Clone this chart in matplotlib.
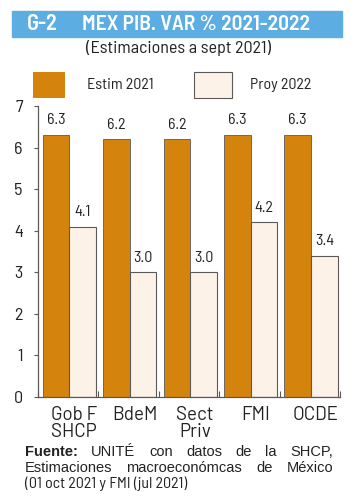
import numpy as np
import matplotlib
matplotlib.use("Agg")
import matplotlib.pyplot as plt
from matplotlib.patches import Rectangle

# Datos
categorias = ["Gob F\nSHCP", "BdeM", "Sect\nPriv", "FMI", "OCDE"]
estim_2021 = [6.3, 6.2, 6.2, 6.3, 6.3]
proy_2022 = [4.1, 3.0, 3.0, 4.2, 3.4]
yticks = [0, 1, 2, 3, 4, 5, 6, 7]

naranja = "#d4840c"
crema = "#fcf2e8"
borde = "#5a5a5a"
azul = "#5caee2"
texto = "#222222"
COND = ["Barlow Semi Condensed", "DejaVu Sans"]
NORMAL = ["Barlow", "DejaVu Sans"]
ARIAL = ["Liberation Sans", "DejaVu Sans"]

W, H = 354, 500
fig = plt.figure(figsize=(W / 100, H / 100), dpi=100)


def px(x, y):
    # pixeles (desde arriba-izquierda) a fraccion de figura
    return x / W, 1 - y / H


# Barra de titulo
fig.patches.append(Rectangle(px(12, 37), 330 / W, 26 / H, transform=fig.transFigure,
                             color=azul, zorder=0))
fig.text(*px(27, 24.5), "G-2", color="white", fontsize=16, fontweight="semibold",
         family=COND, va="center", ha="left")
fig.text(*px(82, 24.5), "MEX PIB. VAR % 2021-2022", color="white", fontsize=15.5,
         fontweight="semibold", family=COND, va="center", ha="left")
fig.text(*px(179, 48), "(Estimaciones a sept 2021)", fontsize=13, family=COND,
         va="center", ha="center", color=texto)

# Leyenda
fig.patches.append(Rectangle(px(33, 98), 32 / W, 26 / H, transform=fig.transFigure,
                             facecolor=naranja, edgecolor="none"))
fig.patches.append(Rectangle(px(194, 98), 38 / W, 26 / H, transform=fig.transFigure,
                             facecolor=crema, edgecolor=borde, lw=0.8))
fig.text(*px(87, 85), "Estim 2021", fontsize=11.5, family=COND, va="center", color=texto)
fig.text(*px(250, 85), "Proy 2022", fontsize=11.5, family=COND, va="center", color=texto)

# Grafico
l, b = px(38, 397)
r, t = px(340, 106)
ax = fig.add_axes([l, b, r - l, t - b])
x = np.arange(len(categorias))
ancho = 0.44
b1 = ax.bar(x + 0.08, estim_2021, ancho, align="edge", color=naranja,
            edgecolor=borde, lw=0.6)
b2 = ax.bar(x + 0.08 + ancho, proy_2022, ancho, align="edge", color=crema,
            edgecolor=borde, lw=0.8)
for barras, vals in [(b1, estim_2021), (b2, proy_2022)]:
    for barra, v in zip(barras, vals):
        ax.annotate(f"{v:.1f}", (barra.get_x() + barra.get_width() / 2, v),
                    xytext=(0, 5.5), textcoords="offset points", ha="center",
                    va="bottom", fontsize=11.5, family=COND, color=texto)

ax.set_xlim(0, len(categorias))
ax.set_ylim(0, 7)
ax.set_yticks(yticks)
ax.set_yticklabels([str(v) for v in yticks], family=COND, fontsize=13, color=texto)
ax.set_xticks(np.arange(len(categorias) + 1))
ax.set_xticklabels([])
ax.tick_params(axis="x", direction="in", length=4, color=borde, width=0.8)
ax.tick_params(axis="y", direction="out", length=3, color=borde, width=0.8, pad=8)
for s in ["top", "right"]:
    ax.spines[s].set_visible(False)
for s in ["left", "bottom"]:
    ax.spines[s].set_color(borde)
    ax.spines[s].set_linewidth(0.9)
for i, cat in enumerate(categorias):
    ax.text(i + 0.6, -0.22, cat, ha="center", va="top", fontsize=13.5, family=NORMAL,
            linespacing=0.9, color=texto)

# Fuente (texto justificado)
lineas = [
    [("Fuente:", "bold"), ("UNITÉ", "normal"), ("con", "normal"), ("datos", "normal"),
     ("de", "normal"), ("la", "normal"), ("SHCP,", "normal")],
    [("Estimaciones", "normal"), ("macroeconómcas", "normal"), ("de", "normal"),
     ("México", "normal")],
]
ys = [452, 468]
x0, x1 = 25, 333
fig.canvas.draw()
ren = fig.canvas.get_renderer()
for palabras, yy in zip(lineas, ys):
    textos = [fig.text(*px(x0, yy), p, fontsize=10.5, fontweight=w, va="center",
                       family=ARIAL, color=texto) for p, w in palabras]
    anchos = [tx.get_window_extent(ren).width for tx in textos]
    hueco = (x1 - x0 - sum(anchos)) / (len(textos) - 1)
    pos = x0
    for tx, a in zip(textos, anchos):
        tx.set_x(pos / W)
        pos += a + hueco
fig.text(*px(x0, 484), "(01 oct 2021 y FMI (jul 2021)", fontsize=11.5, va="center",
         family=COND, color=texto)

fig.savefig("out.png", dpi=100)
